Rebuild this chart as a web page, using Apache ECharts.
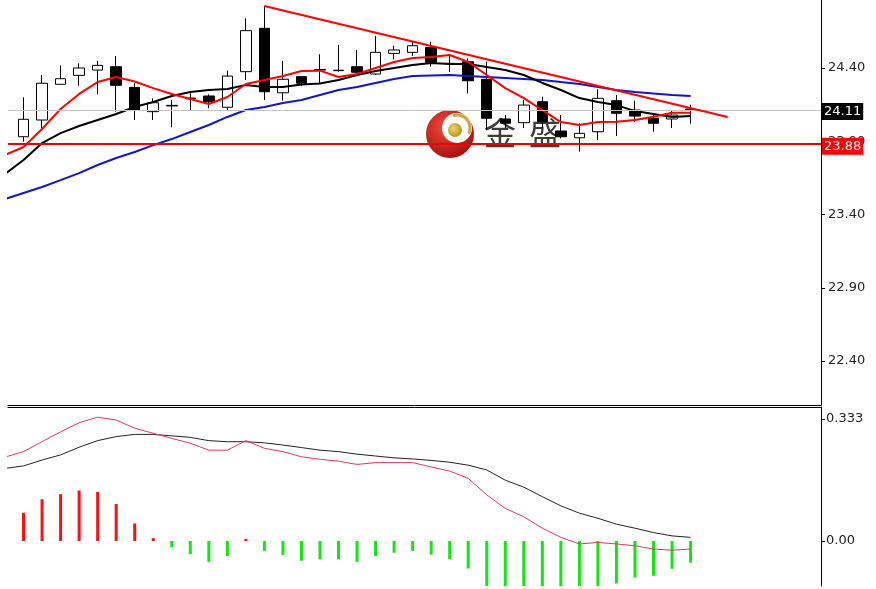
<!DOCTYPE html>
<html><head><meta charset="utf-8">
<script src="https://cdn.jsdelivr.net/npm/echarts@6/dist/echarts.min.js"></script>
<style>html,body{margin:0;padding:0;background:#fff}#c{width:876px;height:589px}</style>
</head><body><div id="c"></div>
<script>
// ---- data (bar index on x) ----
const idx   = [0,1,2,3,4,5,6,7,8,9,10,11,12,13,14,15,16,17,18,19,20,21,22,23,24,25,26,27,28,29,30,31,32,33,34,35,36,37];
const open  = ['-',23.931,24.045,24.289,24.350,24.386,24.409,24.268,24.102,24.141,24.190,24.209,24.132,24.375,24.671,24.231,24.341,24.386,24.382,24.409,24.359,24.500,24.507,24.541,24.432,24.443,24.323,24.052,24.027,24.170,23.970,23.924,23.965,24.177,24.113,24.057,24.052,24.120];
const close = ['-',24.050,24.296,24.327,24.400,24.418,24.282,24.113,24.163,24.145,24.195,24.170,24.345,24.655,24.238,24.323,24.296,24.390,24.385,24.371,24.507,24.523,24.552,24.439,24.430,24.313,24.057,24.023,24.147,24.033,23.931,23.954,24.193,24.091,24.072,24.023,24.079,24.110];
const low   = ['-',23.897,23.988,24.285,24.279,24.220,24.102,24.045,24.045,23.995,24.113,24.125,24.113,24.318,24.182,24.177,24.277,24.296,24.375,24.365,24.352,24.459,24.482,24.409,24.373,24.227,23.977,23.990,23.990,23.988,23.920,23.829,23.909,23.936,24.033,23.965,23.990,24.020];
const high  = ['-',24.200,24.352,24.418,24.432,24.448,24.482,24.296,24.193,24.182,24.227,24.220,24.382,24.739,24.823,24.448,24.345,24.494,24.557,24.523,24.618,24.552,24.577,24.580,24.489,24.466,24.443,24.079,24.182,24.204,24.079,24.023,24.255,24.216,24.177,24.091,24.113,24.150];
const maRed   = [23.806,23.861,23.984,24.120,24.223,24.304,24.339,24.308,24.263,24.223,24.188,24.154,24.202,24.291,24.318,24.345,24.380,24.382,24.339,24.359,24.400,24.441,24.468,24.475,24.489,24.441,24.352,24.263,24.195,24.113,24.031,24.011,24.031,24.034,24.045,24.068,24.095,24.095];
const maBlack = [23.676,23.772,23.888,23.956,24.004,24.045,24.086,24.134,24.168,24.209,24.236,24.250,24.257,24.284,24.270,24.270,24.287,24.294,24.318,24.352,24.380,24.400,24.420,24.434,24.427,24.427,24.407,24.386,24.352,24.298,24.250,24.195,24.168,24.147,24.106,24.086,24.066,24.072];
const maBlue  = [23.506,23.547,23.588,23.635,23.683,23.738,23.786,23.827,23.874,23.915,23.963,24.011,24.066,24.113,24.134,24.161,24.182,24.216,24.250,24.270,24.298,24.325,24.345,24.349,24.352,24.345,24.339,24.332,24.325,24.318,24.304,24.291,24.270,24.250,24.236,24.226,24.216,24.209];
const trendX = [14, 39];
const trendY = [24.823, 24.066];
const priceLines = [24.11, 23.88];
const macdHist   = [null,0.077,0.114,0.128,0.138,0.134,0.101,0.048,0.008,-0.017,-0.036,-0.057,-0.041,0.006,-0.027,-0.038,-0.054,-0.050,-0.050,-0.057,-0.041,-0.032,-0.027,-0.037,-0.050,-0.075,-0.130,-0.140,-0.140,-0.140,-0.135,-0.130,-0.125,-0.116,-0.100,-0.095,-0.076,-0.059];
const macdMain   = [0.229,0.244,0.271,0.298,0.323,0.338,0.330,0.308,0.294,0.280,0.267,0.248,0.248,0.274,0.253,0.244,0.230,0.223,0.218,0.209,0.214,0.214,0.214,0.202,0.191,0.171,0.126,0.089,0.066,0.035,0.010,-0.008,-0.004,-0.008,-0.013,-0.022,-0.025,-0.022];
const macdSignal = [0.198,0.205,0.221,0.235,0.256,0.274,0.285,0.291,0.291,0.287,0.283,0.274,0.271,0.271,0.268,0.262,0.255,0.248,0.244,0.237,0.232,0.227,0.224,0.220,0.215,0.207,0.194,0.166,0.147,0.121,0.096,0.076,0.062,0.046,0.035,0.023,0.014,0.010];
const priceTicks = [22.4, 22.9, 23.4, 23.9, 24.4, 24.9];
const macdTicks = [0, 0.333];
const macdTickLabels = ['0.00', '0.333'];

// ---- build ----
const candleData = idx.map((x, k) => [x, open[k], close[k], low[k], high[k]]);
const pairs = arr => idx.map((x, k) => [x, arr[k]]);
const trendData = trendX.map((x, k) => [x, trendY[k]]);

const FONT = 'DejaVu Sans';
const xCommon = {type: 'value', min: 0.162, max: 44.04, axisTick: {show: false}, axisLabel: {show: false}, splitLine: {show: false}};
const chart = echarts.init(document.getElementById('c'));
chart.setOption({
  animation: false,
  backgroundColor: '#ffffff',
  grid: [
    {left: 8, right: 55, top: -5.25, height: 410.25, outerBoundsMode: 'none', containLabel: false},
    {left: 8, right: 55, top: 407, height: 179, outerBoundsMode: 'none', containLabel: false}
  ],
  xAxis: [
    Object.assign({gridIndex: 0, position: 'bottom', axisLine: {show: true, onZero: false, lineStyle: {color: '#000', width: 1}}}, xCommon),
    Object.assign({gridIndex: 1, position: 'top', axisLine: {show: true, onZero: false, lineStyle: {color: '#000', width: 1}}}, xCommon)
  ],
  yAxis: [
    {type: 'value', gridIndex: 0, position: 'right', min: 22.1, max: 24.9,
     axisLine: {show: true, onZero: false, lineStyle: {color: '#000'}},
     axisTick: {show: true, length: 4, customValues: priceTicks, lineStyle: {color: '#000'}},
     axisLabel: {customValues: priceTicks, formatter: v => v.toFixed(2), color: '#222', fontFamily: FONT, fontSize: 13, margin: 7, hideOverlap: false},
     splitLine: {show: false}},
    {type: 'value', gridIndex: 1, position: 'right', min: -0.1228, max: 0.3658,
     axisLine: {show: true, onZero: false, lineStyle: {color: '#000'}},
     axisTick: {show: true, length: 4, customValues: macdTicks, lineStyle: {color: '#000'}},
     axisLabel: {customValues: macdTicks, formatter: v => macdTickLabels[macdTicks.indexOf(v)] || '', color: '#222', fontFamily: FONT, fontSize: 13, margin: 5},
     splitLine: {show: false}}
  ],
  graphic: [
    {type: 'circle', z: 1, shape: {cx: 450, cy: 134, r: 24},
     style: {fill: new echarts.graphic.RadialGradient(0.4, 0.35, 0.75, [{offset: 0, color: '#f24a3a'}, {offset: 1, color: '#a00a0a'}])}},
    {type: 'circle', z: 1, shape: {cx: 457, cy: 128, r: 15}, style: {fill: '#ffffff'}},
    {type: 'arc', z: 1, shape: {cx: 457, cy: 128, r: 13, startAngle: -Math.PI * 0.6, endAngle: Math.PI * 0.15}, style: {stroke: '#c9a73a', lineWidth: 3, fill: null}},
    {type: 'circle', z: 1, shape: {cx: 455, cy: 130, r: 7},
     style: {fill: new echarts.graphic.RadialGradient(0.4, 0.4, 0.7, [{offset: 0, color: '#f0d860'}, {offset: 1, color: '#b08a20'}])}},
    {type: 'text', z: 1, x: 500, y: 133, style: {text: '金', fontSize: 32, fontFamily: 'Noto Sans CJK SC', fill: '#3c3c3c', align: 'center', verticalAlign: 'middle'}},
    {type: 'text', z: 1, x: 545, y: 133, style: {text: '盛', fontSize: 32, fontFamily: 'Noto Sans CJK SC', fill: '#3c3c3c', align: 'center', verticalAlign: 'middle'}}
  ],
  series: [
    {type: 'candlestick', xAxisIndex: 0, yAxisIndex: 0, data: candleData,
     encode: {x: 0, y: [1, 2, 3, 4]}, barWidth: 11, z: 3,
     itemStyle: {color: '#ffffff', color0: '#000000', borderColor: '#000000', borderColor0: '#000000', borderWidth: 1},
     markLine: {symbol: 'none', silent: true, animation: false,
       data: [
         {yAxis: priceLines[0], lineStyle: {color: '#c4c4c4', width: 1, type: 'solid'},
          label: {show: true, position: 'end', distance: 1, offset: [0, 1], formatter: priceLines[0].toFixed(2), color: '#fff', backgroundColor: '#000', padding: [2, 2, 2, 2], fontFamily: FONT, fontSize: 13}},
         {yAxis: priceLines[1], lineStyle: {color: '#e60000', width: 2, type: 'solid'},
          label: {show: true, position: 'end', distance: 1, offset: [0, 2], formatter: priceLines[1].toFixed(2), color: '#fff', backgroundColor: '#ff0000', padding: [2, 2, 2, 2], fontFamily: FONT, fontSize: 13}}
       ]}},
    {type: 'line', xAxisIndex: 0, yAxisIndex: 0, data: pairs(maBlue), symbol: 'none', z: 4, lineStyle: {color: '#1414c8', width: 2}},
    {type: 'line', xAxisIndex: 0, yAxisIndex: 0, data: pairs(maBlack), symbol: 'none', z: 4, lineStyle: {color: '#000000', width: 2}},
    {type: 'line', xAxisIndex: 0, yAxisIndex: 0, data: pairs(maRed), symbol: 'none', z: 4, lineStyle: {color: '#ff0000', width: 2}},
    {type: 'line', xAxisIndex: 0, yAxisIndex: 0, data: trendData, symbol: 'none', z: 5, lineStyle: {color: '#ff0000', width: 2}},
    {type: 'bar', xAxisIndex: 1, yAxisIndex: 1, data: pairs(macdHist), barWidth: 3,
     itemStyle: {color: p => (p.value[1] >= 0 ? '#ff1010' : '#14e614')}},
    {type: 'line', xAxisIndex: 1, yAxisIndex: 1, data: pairs(macdSignal), symbol: 'none', lineStyle: {color: '#222222', width: 1}},
    {type: 'line', xAxisIndex: 1, yAxisIndex: 1, data: pairs(macdMain), symbol: 'none', lineStyle: {color: '#d83a62', width: 1}}
  ]
});
</script>
</body></html>
